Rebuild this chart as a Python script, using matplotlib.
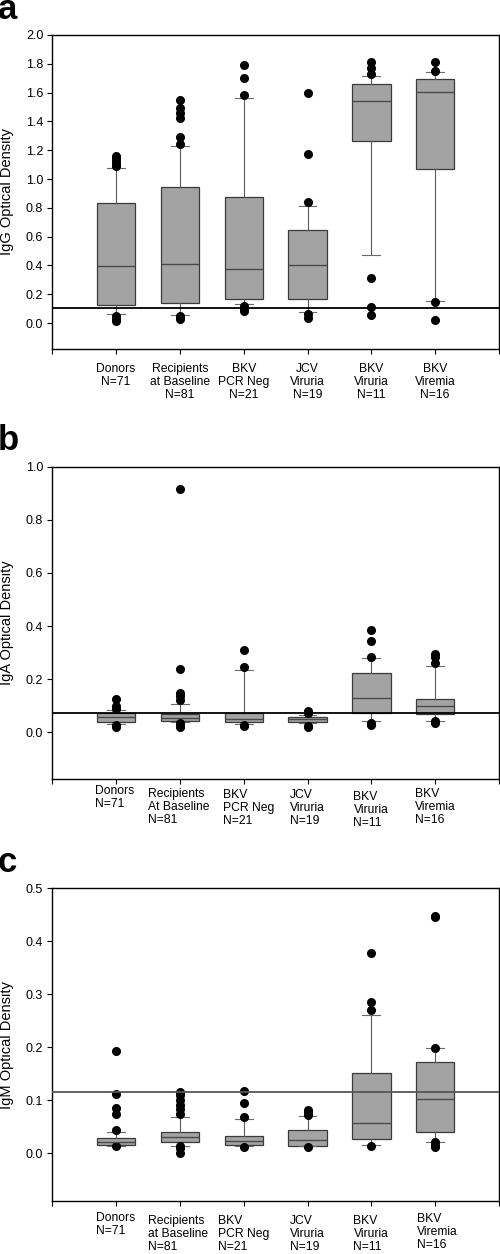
import numpy as np
import matplotlib
matplotlib.use('Agg')
import matplotlib.pyplot as plt
from matplotlib.ticker import FormatStrFormatter

plt.rcParams['font.family'] = ['Liberation Sans', 'DejaVu Sans']

# category labels
labels_a = ['Donors\nN=71', 'Recipients\nat Baseline\nN=81', 'BKV\nPCR Neg\nN=21',
            'JCV\nViruria\nN=19', 'BKV\nViruria\nN=11', 'BKV\nViremia\nN=16']
labels_b = ['Donors\nN=71', 'Recipients\nAt Baseline\nN=81', 'BKV\nPCR Neg\nN=21',
            'JCV\nViruria\nN=19', 'BKV\nViruria\nN=11', 'BKV\nViremia\nN=16']
labels_c = ['Donors\nN=71', 'Recipients\nat Baseline\nN=81', 'BKV\nPCR Neg\nN=21',
            'JCV\nViruria\nN=19', 'BKV\nViruria\nN=11', 'BKV\nViremia\nN=16']

# IgG
igg_q1 = [0.125, 0.139, 0.167, 0.167, 1.267, 1.072]
igg_med = [0.397, 0.411, 0.374, 0.404, 1.543, 1.601]
igg_q3 = [0.835, 0.944, 0.875, 0.647, 1.661, 1.696]
igg_lo = [0.063, 0.058, 0.132, 0.074, 0.473, 0.151]
igg_hi = [1.079, 1.232, 1.564, 0.814, 1.712, 1.742]
igg_out = [[1.09, 1.10, 1.12, 1.14, 1.16, 0.05, 0.03, 0.015],
           [1.548, 1.49, 1.455, 1.427, 1.292, 1.241, 0.051, 0.04, 0.028],
           [1.789, 1.703, 1.582, 0.12, 0.097, 0.086],
           [1.596, 1.172, 0.84, 0.063, 0.035],
           [1.81, 1.768, 1.729, 0.316, 0.114, 0.058],
           [1.81, 1.747, 0.148, 0.019]]
igg_cut = 0.105

# IgA
iga_q1 = [0.037, 0.043, 0.038, 0.038, 0.072, 0.068]
iga_med = [0.056, 0.055, 0.050, 0.049, 0.130, 0.099]
iga_q3 = [0.073, 0.070, 0.072, 0.058, 0.222, 0.124]
iga_lo = [0.031, 0.040, 0.031, 0.034, 0.043, 0.043]
iga_hi = [0.084, 0.105, 0.235, 0.065, 0.279, 0.248]
iga_out = [[0.124, 0.097, 0.089, 0.028, 0.021],
           [0.916, 0.24, 0.149, 0.137, 0.122, 0.034, 0.024, 0.019],
           [0.309, 0.245, 0.028, 0.024],
           [0.08, 0.072, 0.024, 0.019],
           [0.385, 0.344, 0.285, 0.036, 0.028],
           [0.294, 0.282, 0.26, 0.043, 0.036]]
iga_cut = 0.073

# IgM
igm_q1 = [0.016, 0.021, 0.015, 0.014, 0.026, 0.040]
igm_med = [0.021, 0.030, 0.023, 0.025, 0.057, 0.103]
igm_q3 = [0.028, 0.040, 0.033, 0.043, 0.151, 0.172]
igm_lo = [0.014, 0.014, 0.014, 0.013, 0.015, 0.021]
igm_hi = [0.040, 0.068, 0.065, 0.070, 0.261, 0.198]
igm_out = [[0.193, 0.112, 0.086, 0.074, 0.044, 0.013],
           [0.116, 0.109, 0.101, 0.091, 0.083, 0.074, 0.013, 0.009, 0.0],
           [0.118, 0.094, 0.069, 0.011],
           [0.082, 0.077, 0.072, 0.011],
           [0.378, 0.286, 0.270, 0.014],
           [0.448, 0.445, 0.198, 0.021, 0.016, 0.011]]
igm_cut = 0.115

fig = plt.figure(figsize=(5, 12.54), dpi=100)


def panel(rect, q1, med, q3, lo, hi, out, cut, ymin, ymax, ystep, ylabel,
          cutcolor='black'):
    ax = fig.add_axes(rect)
    stats = []
    for i in range(len(med)):
        stats.append(dict(q1=q1[i], med=med[i], q3=q3[i], whislo=lo[i],
                          whishi=hi[i], fliers=out[i]))
    ax.bxp(stats, positions=np.arange(1, 7), widths=0.6, capwidths=0.28,
           patch_artist=True, showfliers=True,
           boxprops=dict(facecolor='#a3a3a3', edgecolor='#3a3a3a', linewidth=0.9),
           medianprops=dict(color='#484848', linewidth=1.0),
           whiskerprops=dict(color='#5a5a5a', linewidth=0.8),
           capprops=dict(color='#6a6a6a', linewidth=0.8),
           flierprops=dict(marker='o', markerfacecolor='black',
                           markeredgecolor='black', markersize=5.5))
    ax.axhline(cut, color=cutcolor, linewidth=1.3, zorder=5)
    ax.set_xlim(0, 7)
    ax.set_ylim(ymin, ymax)
    ax.set_yticks(np.arange(0, ymax + ystep / 2, ystep))
    ax.yaxis.set_major_formatter(FormatStrFormatter('%.1f'))
    ax.set_xticks(range(0, 8))
    ax.tick_params(direction='out', length=3.5, width=0.8, labelsize=9,
                   pad=3)
    for s in ax.spines.values():
        s.set_linewidth(1.0)
    ax.set_ylabel(ylabel, fontsize=10.5)
    ax.yaxis.set_label_coords(-0.086, 0.5)
    return ax


ax1 = panel([0.1045, 0.7217, 0.8935, 0.2504], igg_q1, igg_med, igg_q3,
            igg_lo, igg_hi, igg_out, igg_cut, -0.18, 2.0, 0.2,
            'IgG Optical Density')
ax1.set_xticklabels([''] + labels_a + [''], fontsize=8.7, linespacing=1.1)
ax1.tick_params(axis='x', pad=6.5)

ax2 = panel([0.1045, 0.3788, 0.8935, 0.2490], iga_q1, iga_med, iga_q3,
            iga_lo, iga_hi, iga_out, iga_cut, -0.176, 1.0, 0.2,
            'IgA Optical Density')
ax2.set_xticklabels([])
lx_b = [0.67, 1.5, 2.67, 3.73, 4.72, 5.68]
dy_b = [6.5, 9.5, 9.8, 10.5, 12.5, 9.5]
for lab, x, d in zip(labels_b, lx_b, dy_b):
    ax2.annotate(lab, xy=(x, 0), xycoords=('data', 'axes fraction'),
                 xytext=(0, -d / 1.39), textcoords='offset points',
                 ha='left', va='top', fontsize=8.7, linespacing=1.1)

ax3 = panel([0.1045, 0.0423, 0.8935, 0.2494], igm_q1, igm_med, igm_q3,
            igm_lo, igm_hi, igm_out, igm_cut, -0.09, 0.5, 0.1,
            'IgM Optical Density', cutcolor='#555555')
ax3.set_xticklabels([])
lx_c = [0.68, 1.5, 2.6, 3.72, 4.72, 5.71]
dy_c = [11.5, 14.0, 14.0, 14.5, 14.0, 12.5]
for lab, x, d in zip(labels_c, lx_c, dy_c):
    ax3.annotate(lab, xy=(x, 0), xycoords=('data', 'axes fraction'),
                 xytext=(0, -d / 1.39), textcoords='offset points',
                 ha='left', va='top', fontsize=8.7, linespacing=1.1)

fig.text(-0.004, 1 - 19 / 1254, 'a', fontsize=25, fontweight='bold', va='baseline')
fig.text(-0.004, 1 - 450 / 1254, 'b', fontsize=25, fontweight='bold', va='baseline')
fig.text(-0.004, 1 - 872 / 1254, 'c', fontsize=25, fontweight='bold', va='baseline')

fig.savefig('out.png', dpi=100)
